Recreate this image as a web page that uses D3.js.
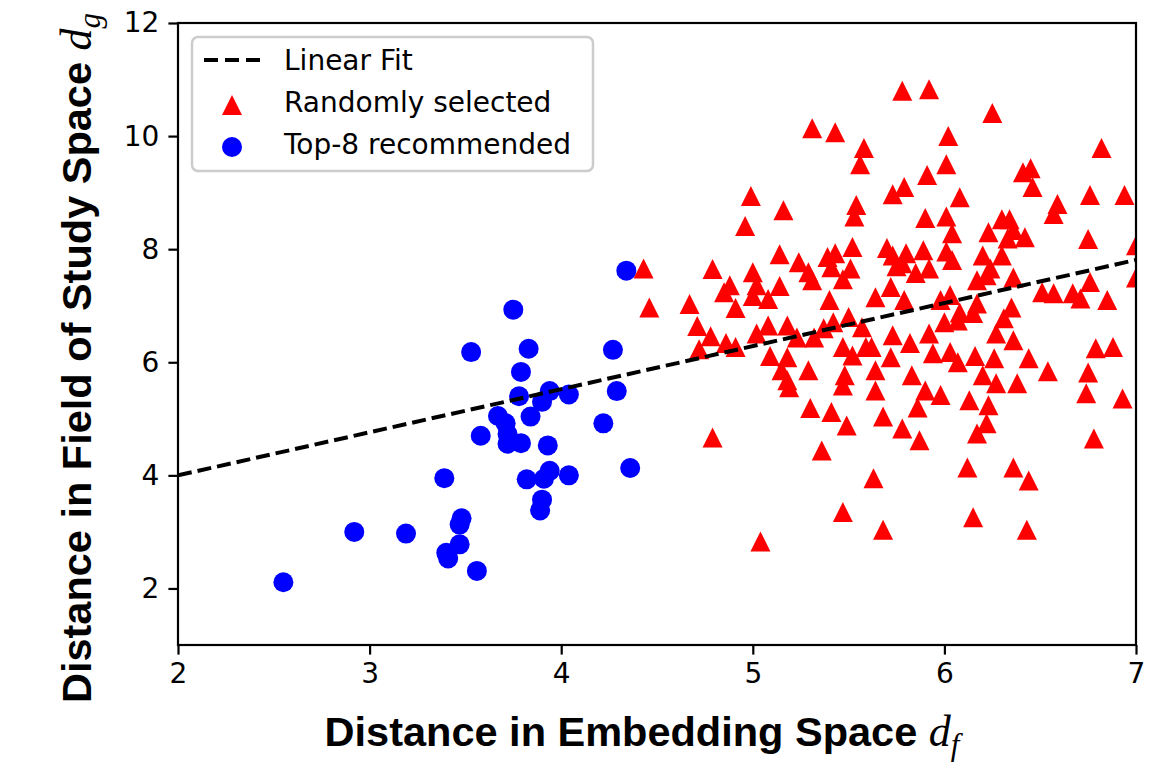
<!DOCTYPE html>
<html>
<head>
<meta charset="utf-8">
<script src="https://cdn.jsdelivr.net/npm/d3@7"></script>
<style>
  body { margin: 0; background: #fff; }
  svg text { font-family: "DejaVu Sans", sans-serif; }
</style>
</head>
<body>
<div id="chart"></div>
<script>
// Top-8 recommended (blue circles)
const recX = [4.34, 3.75, 3.53, 3.83, 4.27, 3.79, 3.78, 3.94, 3.90, 4.04, 4.29, 4.22, 3.84, 3.67, 3.71, 3.72, 3.72, 3.79, 3.58, 3.93,
  4.36, 3.39, 3.82, 3.91, 3.94, 4.04, 3.90, 3.89, 3.48, 3.47, 2.92, 3.19, 3.47, 3.40, 3.41, 3.56, 2.55];
const recY = [7.62, 6.93, 6.18, 6.24, 6.22, 5.83, 5.40, 5.49, 5.30, 5.43, 5.49, 4.92, 5.04, 5.05, 4.92, 4.73, 4.56, 4.57, 4.70, 4.53,
  4.13, 3.95, 3.93, 3.94, 4.08, 4.00, 3.57, 3.38, 3.24, 3.13, 3.00, 2.97, 2.78, 2.63, 2.53, 2.31, 2.11];

// Randomly selected (red triangles)
const randX = [4.99, 5.16, 4.96, 4.43, 4.46, 4.79, 5.14, 5.00, 5.24, 4.88, 4.85, 5.02, 5.00, 5.08, 5.14, 4.91, 4.67, 4.71, 4.78, 4.72,
  4.86, 4.91, 5.02, 5.08, 5.18, 5.23, 5.09, 5.18, 5.15, 5.18, 5.19, 4.79, 5.04, 5.78, 5.92, 5.31, 5.43, 6.02, 5.58, 5.56,
  6.01, 5.91, 5.79, 5.73, 6.08, 5.54, 5.53, 5.90, 6.01, 6.04, 6.01, 6.04, 5.39, 5.43, 5.52, 5.29, 5.31, 5.41, 5.51, 5.47,
  5.70, 5.73, 5.80, 5.89, 5.75, 5.85, 5.92, 5.78, 5.40, 5.64, 5.72, 5.79, 5.98, 6.03, 6.08, 5.37, 5.42, 5.50, 5.57, 5.32,
  5.73, 5.82, 5.92, 6.00, 6.07, 5.47, 5.52, 5.59, 5.62, 5.72, 5.94, 6.03, 6.07, 5.29, 5.48, 5.64, 5.47, 5.64, 5.83, 5.90,
  5.98, 5.86, 6.13, 5.30, 5.41, 5.49, 5.68, 5.78, 5.87, 5.36, 6.12, 5.63, 5.47, 5.68, 6.25, 6.82, 6.41, 6.45, 6.46, 6.76,
  6.94, 6.59, 6.57, 6.30, 6.34, 6.23, 6.36, 6.42, 6.33, 6.75, 6.20, 6.30, 6.24, 6.17, 6.22, 6.36, 6.51, 6.57, 6.67, 6.71,
  6.76, 6.85, 7.00, 7.00, 6.17, 6.35, 6.15, 6.31, 6.27, 6.36, 6.16, 6.26, 6.44, 6.54, 6.20, 6.27, 6.38, 6.79, 6.88, 6.75,
  6.74, 6.93, 6.23, 6.22, 6.17, 6.78, 6.36, 6.44, 6.15, 6.43];
const randY = [8.94, 8.69, 8.41, 7.66, 6.97, 7.65, 7.91, 7.59, 7.77, 7.36, 7.24, 7.36, 7.17, 7.12, 7.35, 6.96, 7.03, 6.64, 6.46, 6.23,
  6.34, 6.27, 6.51, 6.65, 6.65, 6.44, 6.11, 6.09, 5.86, 5.68, 5.56, 4.67, 2.83, 10.80, 10.83, 10.14, 10.07, 10.00, 9.79, 9.50,
  9.50, 9.31, 9.10, 8.97, 8.92, 8.78, 8.58, 8.55, 8.58, 8.28, 7.96, 7.81, 7.86, 7.93, 8.04, 7.59, 7.45, 7.68, 7.66, 7.47,
  8.02, 7.89, 7.93, 7.98, 7.70, 7.58, 7.66, 7.75, 7.10, 7.15, 7.33, 7.10, 7.10, 7.19, 6.88, 6.60, 6.71, 6.80, 6.62, 6.44,
  6.48, 6.34, 6.51, 6.71, 6.74, 6.27, 6.12, 6.27, 6.27, 6.09, 6.16, 6.18, 6.00, 5.86, 5.77, 5.86, 5.59, 5.50, 5.77, 5.50,
  5.42, 5.20, 5.33, 5.19, 5.12, 4.88, 5.04, 4.83, 4.62, 4.44, 4.14, 3.95, 3.35, 3.04, 10.41, 9.79, 9.36, 9.43, 9.10, 8.96,
  8.96, 8.80, 8.62, 8.53, 8.53, 8.30, 8.34, 8.21, 8.19, 8.18, 7.89, 7.89, 7.66, 7.45, 7.54, 7.50, 7.24, 7.22, 7.22, 7.13,
  7.42, 7.10, 8.07, 7.50, 7.04, 6.97, 6.87, 6.78, 6.51, 6.39, 6.11, 6.07, 6.07, 5.84, 5.77, 5.63, 5.63, 6.25, 6.27, 5.82,
  5.45, 5.36, 5.24, 4.92, 4.74, 4.65, 4.14, 3.91, 3.26, 3.04];

// Linear fit end points
const fitX = [2, 7];
const fitY = [4.0, 7.81];

const xTicks = [2, 3, 4, 5, 6, 7];
const yTicks = [2, 4, 6, 8, 10, 12];
const legendLabels = ['Linear Fit', 'Randomly selected', 'Top-8 recommended'];

const svgWidth = 1175,
  svgHeight = 762;
const margin = { top: 23, right: 39, bottom: 117, left: 178 };
const width = svgWidth - margin.left - margin.right;
const height = svgHeight - margin.top - margin.bottom;

const svgRoot = d3
  .select('#chart')
  .append('svg')
  .attr('width', svgWidth)
  .attr('height', svgHeight);

const svg = svgRoot
  .append('g')
  .attr('transform', `translate(${margin.left},${margin.top})`);

const x = d3.scaleLinear().domain([2, 7]).range([0, width]);
const y = d3.scaleLinear().domain([1, 12]).range([height, 0]);

svg
  .append('clipPath')
  .attr('id', 'plot-clip')
  .append('rect')
  .attr('width', width)
  .attr('height', height);

// axes
const tickFont = 28;
const xAxis = svg
  .append('g')
  .attr('transform', `translate(0,${height})`)
  .call(
    d3.axisBottom(x).tickValues(xTicks).tickFormat(d3.format('d')).tickSize(9.6).tickPadding(9),
  );
const yAxis = svg
  .append('g')
  .call(
    d3.axisLeft(y).tickValues(yTicks).tickFormat(d3.format('d')).tickSize(9.6).tickPadding(9),
  );

[xAxis, yAxis].forEach((ax) => {
  ax.select('.domain').remove();
  ax.selectAll('line').attr('stroke', '#000').attr('stroke-width', 2.2);
  ax.selectAll('text')
    .attr('font-family', 'DejaVu Sans')
    .attr('font-size', tickFont)
    .attr('fill', '#000');
});

const plot = svg.append('g').attr('clip-path', 'url(#plot-clip)');

const triPath = 'M0,-10L10,10L-10,10Z';

// blue points
plot
  .selectAll('.rec')
  .data(recX.map((v, i) => ({ x: v, y: recY[i] })))
  .enter()
  .append('circle')
  .attr('class', 'rec')
  .attr('cx', (d) => x(d.x))
  .attr('cy', (d) => y(d.y))
  .attr('r', 10)
  .attr('fill', '#0000ff');

// red triangles
plot
  .selectAll('.rand')
  .data(randX.map((v, i) => ({ x: v, y: randY[i] })))
  .enter()
  .append('path')
  .attr('class', 'rand')
  .attr('d', triPath)
  .attr('transform', (d) => `translate(${x(d.x)},${y(d.y)})`)
  .attr('fill', '#ff0000');

// fit line
const line = d3
  .line()
  .x((d) => x(d[0]))
  .y((d) => y(d[1]));
plot
  .append('path')
  .datum(fitX.map((v, i) => [v, fitY[i]]))
  .attr('fill', 'none')
  .attr('stroke', '#000')
  .attr('stroke-width', 4)
  .attr('stroke-dasharray', '14,6')
  .attr('d', line);

// frame
svg
  .append('rect')
  .attr('width', width)
  .attr('height', height)
  .attr('fill', 'none')
  .attr('stroke', '#000')
  .attr('stroke-width', 2.2);

// legend
const legend = svg.append('g').attr('transform', 'translate(14,14)');
legend
  .append('rect')
  .attr('width', 401)
  .attr('height', 134)
  .attr('rx', 6)
  .attr('fill', 'rgba(255,255,255,0.8)')
  .attr('stroke', '#cccccc')
  .attr('stroke-width', 2.5);

const rowY = (i) => 23 + i * 42;
legendLabels.forEach((label, i) => {
  const row = legend.append('g').attr('transform', `translate(0,${rowY(i)})`);
  if (i === 0) {
    row
      .append('line')
      .attr('x1', 12)
      .attr('x2', 68)
      .attr('stroke', '#000')
      .attr('stroke-width', 4)
      .attr('stroke-dasharray', '14,7');
  } else if (i === 1) {
    row
      .append('path')
      .attr('d', triPath)
      .attr('transform', 'translate(40,3)')
      .attr('fill', '#ff0000');
  } else {
    row
      .append('circle')
      .attr('cx', 40)
      .attr('cy', 3)
      .attr('r', 10)
      .attr('fill', '#0000ff');
  }
  row
    .append('text')
    .attr('x', 92)
    .attr('dy', '0.36em')
    .attr('font-size', tickFont)
    .attr('fill', '#000')
    .text(label);
});

// axis titles
const xTitle = svgRoot
  .append('text')
  .attr('x', 642)
  .attr('y', 746)
  .attr('text-anchor', 'middle')
  .style('font-family', '"Liberation Sans", Arial, sans-serif')
  .style('font-weight', 'bold')
  .style('font-size', '41.5px')
  .attr('fill', '#000');
xTitle.append('tspan').text('Distance in Embedding Space ');
xTitle
  .append('tspan')
  .style('font-family', '"Liberation Serif", serif')
  .style('font-style', 'italic')
  .style('font-weight', 'normal')
  .style('font-size', '44px')
  .text('d');
xTitle
  .append('tspan')
  .attr('dy', 9)
  .style('font-family', '"Liberation Serif", serif')
  .style('font-style', 'italic')
  .style('font-weight', 'normal')
  .style('font-size', '31px')
  .text('f');

const yTitle = svgRoot
  .append('text')
  .attr('transform', 'translate(91,358) rotate(-90)')
  .attr('text-anchor', 'middle')
  .style('font-family', '"Liberation Sans", Arial, sans-serif')
  .style('font-weight', 'bold')
  .style('font-size', '41.5px')
  .attr('fill', '#000');
yTitle.append('tspan').text('Distance in Field of Study Space ');
yTitle
  .append('tspan')
  .style('font-family', '"Liberation Serif", serif')
  .style('font-style', 'italic')
  .style('font-weight', 'normal')
  .style('font-size', '44px')
  .text('d');
yTitle
  .append('tspan')
  .attr('dy', 9)
  .style('font-family', '"Liberation Serif", serif')
  .style('font-style', 'italic')
  .style('font-weight', 'normal')
  .style('font-size', '31px')
  .text('g');
</script>
</body>
</html>
